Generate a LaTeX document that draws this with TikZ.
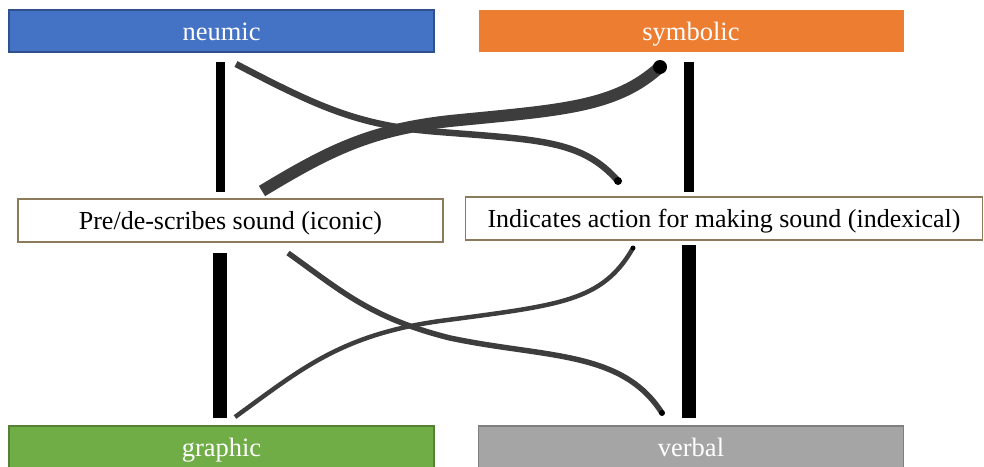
\documentclass[tikz,border=0pt]{standalone}
\usepackage{fontspec}
\setmainfont{Liberation Serif}
\definecolor{cblue}{HTML}{4472C4}
\definecolor{cblueb}{HTML}{2F528F}
\definecolor{corange}{HTML}{ED7D31}
\definecolor{cgreen}{HTML}{70AD47}
\definecolor{cgreenb}{HTML}{548235}
\definecolor{cgray}{HTML}{A5A5A5}
\definecolor{cgrayb}{HTML}{7F7F7F}
\definecolor{cbrown}{HTML}{8B7B5A}
\definecolor{curve}{HTML}{3D3D3D}
\tikzset{
  catbox/.style={inner sep=0pt, outer sep=0pt, minimum height=42pt, minimum width=425pt, text=white, font=\fontsize{26.5}{30}\selectfont, text height=23pt, text depth=5pt},
  textbox/.style={inner sep=0pt, outer sep=0pt, minimum height=43pt, draw=cbrown, line width=1.2pt, fill=white, font=\fontsize{26}{30}\selectfont, text height=23pt, text depth=5pt},
  bar/.style={draw=black},
  link/.style={draw=curve, line cap=butt},
  blob/.style={fill=black}
}
\begin{document}
\begin{tikzpicture}[x=1pt,y=-1pt]
\useasboundingbox (0,0) rectangle (984,466);
% category boxes
\node[catbox, fill=cblue, draw=cblueb, line width=1.2pt] (neumic) at (221.5,31) {neumic};
\node[catbox, fill=corange] (symbolic) at (691,31) {symbolic};
\node[catbox, fill=cgreen, draw=cgreenb, line width=1.2pt] (graphic) at (221.5,447) {graphic};
\node[catbox, fill=cgray, draw=cgrayb, line width=1.2pt] (verbal) at (691,447) {verbal};
% middle boxes
\node[textbox, minimum width=425pt] (iconic) at (230.5,220.5) {Pre/de-scribes sound (iconic)};
\node[textbox, minimum width=517pt] (indexical) at (724,218.5) {Indicates action for making sound (indexical)};
% bar coordinates
\coordinate (b1s) at (220.5,62);  \coordinate (b1e) at (220.5,192);
\coordinate (b2s) at (689,62);    \coordinate (b2e) at (689,192);
\coordinate (b3s) at (220,253);   \coordinate (b3e) at (220,418);
\coordinate (b4s) at (689,245);   \coordinate (b4e) at (689,418);
\draw[bar, line width=9pt] (b1s) -- (b1e);
\draw[bar, line width=10pt] (b2s) -- (b2e);
\draw[bar, line width=14pt] (b3s) -- (b3e);
\draw[bar, line width=14pt] (b4s) -- (b4e);
% curve coordinates
\coordinate (as) at (236,64);  \coordinate (ae) at (618,181);
\coordinate (bs) at (262,191); \coordinate (be) at (660,67);
\coordinate (cs) at (288,253); \coordinate (ce) at (662,413);
\coordinate (ds) at (235,417); \coordinate (de) at (633,248);
\draw[link, line width=6.5pt] (as) .. controls (320,108) and (360,126) .. (440,132) .. controls (540,140) and (582,140) .. (ae);
\draw[link, line width=12pt] (bs) .. controls (330,150) and (370,130) .. (450,121) .. controls (560,110) and (615,108) .. (be);
\draw[link, line width=5.5pt] (cs) .. controls (340,290) and (370,318) .. (450,338) .. controls (545,358) and (622,350) .. (ce);
\draw[link, line width=4.5pt] (ds) .. controls (300,370) and (340,335) .. (440,321) .. controls (560,305) and (602,302) .. (de);
% end blobs
\fill[blob] (ae) circle (4pt);
\fill[blob] (be) circle (7pt);
\fill[blob] (ce) circle (3pt);
\fill[blob] (de) circle (2.5pt);
\end{tikzpicture}
\end{document}
